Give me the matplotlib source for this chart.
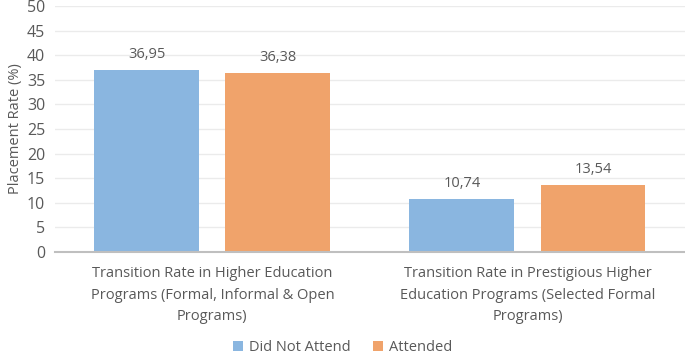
import matplotlib.pyplot as plt
import numpy as np

plt.rcParams['font.family'] = ['Open Sans', 'DejaVu Sans']

categories = ["Transition Rate in Higher Education\nPrograms (Formal, Informal & Open\nPrograms)",
              "Transition Rate in Prestigious Higher\nEducation Programs (Selected Formal\nPrograms)"]
did_not_attend = [36.95, 10.74]
attended = [36.38, 13.54]
series_names = ["Did Not Attend", "Attended"]

text_color = "#595959"
blue = "#8AB6E0"
orange = "#F0A36B"

fig = plt.figure(figsize=(6.85, 3.58), dpi=100)
ax = fig.add_axes([0.080, 0.296, 0.92, 0.687])

x = np.arange(len(categories))
w = 0.333
off = 0.208
b1 = ax.bar(x - off, did_not_attend, w, color=blue, label=series_names[0], zorder=2)
b2 = ax.bar(x + off, attended, w, color=orange, label=series_names[1], zorder=2)

for bars in (b1, b2):
    for rect in bars:
        h = rect.get_height()
        ax.annotate("{:.2f}".format(h).replace(".", ","),
                    (rect.get_x() + rect.get_width() / 2, h),
                    xytext=(0, 6), textcoords="offset points",
                    ha="center", va="bottom", fontsize=10.5, color=text_color)

ax.set_xlim(-0.5, 1.5)
ax.set_ylim(0, 50)
ax.set_yticks(range(0, 51, 5))
ax.set_xticks(x)
ax.set_xticklabels(categories, fontsize=10.5, color=text_color, linespacing=1.6)
ax.tick_params(axis="y", labelsize=11.5, colors=text_color, length=0, pad=7)
ax.tick_params(axis="x", length=0, pad=10)
ax.grid(axis="y", color="#EBEBEB", lw=1, zorder=0)
for s in ["top", "right", "left"]:
    ax.spines[s].set_visible(False)
ax.spines["bottom"].set_color("#BFBFBF")
ax.spines["bottom"].set_linewidth(1.5)
ax.set_ylabel("Placement Rate (%)", fontsize=10.5, color=text_color, labelpad=3)

fig.legend(loc="lower center", bbox_to_anchor=(0.5, -0.028), ncol=2, frameon=False,
           fontsize=10.5, labelcolor=text_color, handlelength=0.7, handleheight=0.7,
           columnspacing=1.5, handletextpad=0.4)

fig.savefig("out.png", dpi=100)
